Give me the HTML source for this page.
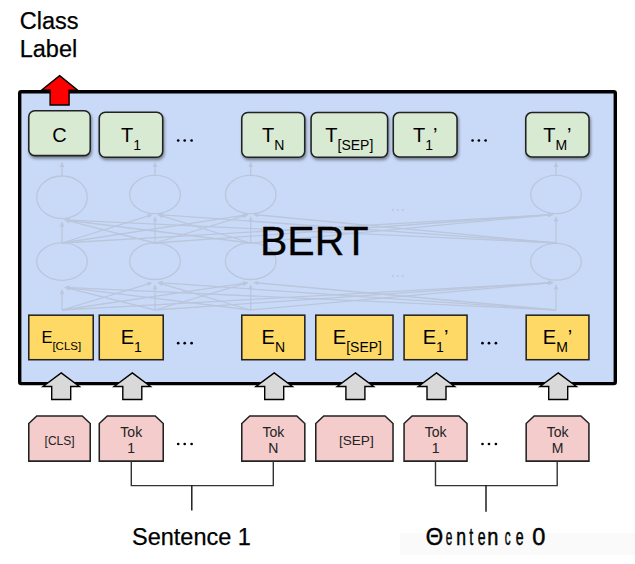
<!DOCTYPE html>
<html><head><meta charset="utf-8"><style>
html,body{margin:0;padding:0;background:#fff;}
body{width:635px;height:564px;overflow:hidden;position:relative;}
svg{position:absolute;left:0;top:0;}
text{font-family:"Liberation Sans", sans-serif;}
</style></head><body>
<svg width="635" height="564" viewBox="0 0 635 564">
<defs>
<filter id="sh" x="-20%" y="-20%" width="140%" height="150%">
<feDropShadow dx="1" dy="2.2" stdDeviation="1.8" flood-color="#000" flood-opacity="0.42"/>
</filter>
<filter id="bl" x="-5%" y="-5%" width="110%" height="110%"><feGaussianBlur stdDeviation="0.35"/></filter>
</defs>

<rect x="400" y="533" width="235" height="22" fill="#fafafa"/>
<rect x="19.7" y="91.7" width="595.6" height="291.9" rx="1.5" fill="#c9daf8" stroke="#000" stroke-width="3.4"/>
<g stroke="#bac6dc" stroke-width="1.3" fill="none" filter="url(#bl)">
<ellipse cx="62" cy="197.3" rx="25.3" ry="21.3"/>
<ellipse cx="62" cy="261.6" rx="25.3" ry="18.7"/>
<line x1="62" y1="176.0" x2="62.00" y2="167.00"/>
<path d="M62.00,161.50 L64.30,167.00 L59.70,167.00 Z" fill="#bac6dc" stroke="none"/>
<ellipse cx="155" cy="194.5" rx="25.3" ry="19.2"/>
<ellipse cx="155" cy="261.2" rx="25.3" ry="18.3"/>
<line x1="155" y1="175.3" x2="155.00" y2="167.00"/>
<path d="M155.00,161.50 L157.30,167.00 L152.70,167.00 Z" fill="#bac6dc" stroke="none"/>
<ellipse cx="250.7" cy="194.5" rx="25.3" ry="19.2"/>
<ellipse cx="250.7" cy="261.2" rx="25.3" ry="18.3"/>
<line x1="250.7" y1="175.3" x2="250.70" y2="167.00"/>
<path d="M250.70,161.50 L253.00,167.00 L248.40,167.00 Z" fill="#bac6dc" stroke="none"/>
<ellipse cx="556" cy="194.5" rx="25.3" ry="19.2"/>
<ellipse cx="556" cy="261.8" rx="25.3" ry="18.4"/>
<line x1="556" y1="175.3" x2="556.00" y2="167.00"/>
<path d="M556.00,161.50 L558.30,167.00 L553.70,167.00 Z" fill="#bac6dc" stroke="none"/>
<line x1="62" y1="243" x2="62.00" y2="226.80"/>
<path d="M62.00,221.30 L64.30,226.80 L59.70,226.80 Z" fill="#bac6dc" stroke="none"/>
<line x1="62" y1="310" x2="62.00" y2="294.30"/>
<path d="M62.00,288.80 L64.30,294.30 L59.70,294.30 Z" fill="#bac6dc" stroke="none"/>
<line x1="62" y1="243" x2="147.55" y2="216.15"/>
<path d="M152.80,214.50 L148.24,218.34 L146.86,213.95 Z" fill="#bac6dc" stroke="none"/>
<line x1="62" y1="310" x2="147.54" y2="284.09"/>
<path d="M152.80,282.50 L148.20,286.30 L146.87,281.89 Z" fill="#bac6dc" stroke="none"/>
<line x1="62" y1="243" x2="243.06" y2="215.33"/>
<path d="M248.50,214.50 L243.41,217.60 L242.72,213.06 Z" fill="#bac6dc" stroke="none"/>
<line x1="62" y1="310" x2="243.06" y2="283.30"/>
<path d="M248.50,282.50 L243.39,285.58 L242.72,281.03 Z" fill="#bac6dc" stroke="none"/>
<line x1="62" y1="243" x2="548.31" y2="214.82"/>
<path d="M553.80,214.50 L548.44,217.11 L548.18,212.52 Z" fill="#bac6dc" stroke="none"/>
<line x1="62" y1="310" x2="548.31" y2="282.81"/>
<path d="M553.80,282.50 L548.44,285.10 L548.18,280.51 Z" fill="#bac6dc" stroke="none"/>
<line x1="155" y1="243" x2="69.53" y2="221.16"/>
<path d="M64.20,219.80 L70.10,218.93 L68.96,223.39 Z" fill="#bac6dc" stroke="none"/>
<line x1="155" y1="310" x2="69.54" y2="288.63"/>
<path d="M64.20,287.30 L70.09,286.40 L68.98,290.87 Z" fill="#bac6dc" stroke="none"/>
<line x1="155" y1="243" x2="155.00" y2="221.50"/>
<path d="M155.00,216.00 L157.30,221.50 L152.70,221.50 Z" fill="#bac6dc" stroke="none"/>
<line x1="155" y1="310" x2="155.00" y2="289.50"/>
<path d="M155.00,284.00 L157.30,289.50 L152.70,289.50 Z" fill="#bac6dc" stroke="none"/>
<line x1="155" y1="243" x2="243.24" y2="216.10"/>
<path d="M248.50,214.50 L243.91,218.30 L242.57,213.90 Z" fill="#bac6dc" stroke="none"/>
<line x1="155" y1="310" x2="243.22" y2="284.05"/>
<path d="M248.50,282.50 L243.87,286.26 L242.57,281.85 Z" fill="#bac6dc" stroke="none"/>
<line x1="155" y1="243" x2="548.31" y2="214.89"/>
<path d="M553.80,214.50 L548.48,217.19 L548.15,212.60 Z" fill="#bac6dc" stroke="none"/>
<line x1="155" y1="310" x2="548.31" y2="282.88"/>
<path d="M553.80,282.50 L548.47,285.17 L548.15,280.58 Z" fill="#bac6dc" stroke="none"/>
<line x1="250.7" y1="243" x2="69.66" y2="220.48"/>
<path d="M64.20,219.80 L69.94,218.20 L69.37,222.76 Z" fill="#bac6dc" stroke="none"/>
<line x1="250.7" y1="310" x2="69.66" y2="287.96"/>
<path d="M64.20,287.30 L69.94,285.68 L69.38,290.25 Z" fill="#bac6dc" stroke="none"/>
<line x1="250.7" y1="243" x2="162.46" y2="216.10"/>
<path d="M157.20,214.50 L163.13,213.90 L161.79,218.30 Z" fill="#bac6dc" stroke="none"/>
<line x1="250.7" y1="310" x2="162.48" y2="284.05"/>
<path d="M157.20,282.50 L163.13,281.85 L161.83,286.26 Z" fill="#bac6dc" stroke="none"/>
<line x1="250.7" y1="243" x2="250.70" y2="221.50"/>
<path d="M250.70,216.00 L253.00,221.50 L248.40,221.50 Z" fill="#bac6dc" stroke="none"/>
<line x1="250.7" y1="310" x2="250.70" y2="289.50"/>
<path d="M250.70,284.00 L253.00,289.50 L248.40,289.50 Z" fill="#bac6dc" stroke="none"/>
<line x1="250.7" y1="243" x2="548.32" y2="215.01"/>
<path d="M553.80,214.50 L548.54,217.30 L548.11,212.72 Z" fill="#bac6dc" stroke="none"/>
<line x1="250.7" y1="310" x2="548.32" y2="283.00"/>
<path d="M553.80,282.50 L548.53,285.29 L548.11,280.71 Z" fill="#bac6dc" stroke="none"/>
<line x1="556" y1="243" x2="69.69" y2="220.06"/>
<path d="M64.20,219.80 L69.80,217.76 L69.59,222.36 Z" fill="#bac6dc" stroke="none"/>
<line x1="556" y1="310" x2="69.69" y2="287.55"/>
<path d="M64.20,287.30 L69.80,285.26 L69.59,289.85 Z" fill="#bac6dc" stroke="none"/>
<line x1="556" y1="243" x2="162.69" y2="214.89"/>
<path d="M157.20,214.50 L162.85,212.60 L162.52,217.19 Z" fill="#bac6dc" stroke="none"/>
<line x1="556" y1="310" x2="162.69" y2="282.88"/>
<path d="M157.20,282.50 L162.85,280.58 L162.53,285.17 Z" fill="#bac6dc" stroke="none"/>
<line x1="556" y1="243" x2="258.38" y2="215.01"/>
<path d="M252.90,214.50 L258.59,212.72 L258.16,217.30 Z" fill="#bac6dc" stroke="none"/>
<line x1="556" y1="310" x2="258.38" y2="283.00"/>
<path d="M252.90,282.50 L258.59,280.71 L258.17,285.29 Z" fill="#bac6dc" stroke="none"/>
<line x1="556" y1="243" x2="556.00" y2="221.50"/>
<path d="M556.00,216.00 L558.30,221.50 L553.70,221.50 Z" fill="#bac6dc" stroke="none"/>
<line x1="556" y1="310" x2="556.00" y2="289.50"/>
<path d="M556.00,284.00 L558.30,289.50 L553.70,289.50 Z" fill="#bac6dc" stroke="none"/>
</g>
<circle cx="392.7" cy="210" r="1.1" fill="#bac6dc"/>
<circle cx="397.7" cy="210" r="1.1" fill="#bac6dc"/>
<circle cx="402.7" cy="210" r="1.1" fill="#bac6dc"/>
<circle cx="392.7" cy="276" r="1.1" fill="#bac6dc"/>
<circle cx="397.7" cy="276" r="1.1" fill="#bac6dc"/>
<circle cx="402.7" cy="276" r="1.1" fill="#bac6dc"/>
<text x="260" y="255" font-size="41" fill="#000" stroke="#000" stroke-width="0.3">BERT</text>
<rect x="28.775" y="110.775" width="61.45" height="44.85" rx="6" fill="#d9ead3" stroke="#222" stroke-width="1.55" filter="url(#sh)"/>
<rect x="99.275" y="112.275" width="63.45" height="44.95" rx="6" fill="#d9ead3" stroke="#222" stroke-width="1.55" filter="url(#sh)"/>
<rect x="241.775" y="112.47500000000001" width="62.95" height="44.75" rx="6" fill="#d9ead3" stroke="#222" stroke-width="1.55" filter="url(#sh)"/>
<rect x="311.075" y="112.47500000000001" width="76.55" height="44.75" rx="6" fill="#d9ead3" stroke="#222" stroke-width="1.55" filter="url(#sh)"/>
<rect x="393.275" y="112.575" width="63.75" height="44.35" rx="6" fill="#d9ead3" stroke="#222" stroke-width="1.55" filter="url(#sh)"/>
<rect x="525.775" y="112.575" width="63.25" height="44.35" rx="6" fill="#d9ead3" stroke="#222" stroke-width="1.55" filter="url(#sh)"/>
<text x="59.5" y="142" font-size="20" text-anchor="middle" fill="#000">C</text>
<text x="131.0" y="142" font-size="20" text-anchor="middle" fill="#000">T<tspan font-size="14" dy="7.7">1</tspan></text>
<text x="273.25" y="142" font-size="20" text-anchor="middle" fill="#000">T<tspan font-size="14" dy="7.7">N</tspan></text>
<text x="349.35" y="142" font-size="20" text-anchor="middle" fill="#000">T<tspan font-size="14" dy="7.7">[SEP]</tspan></text>
<text x="425.15" y="142" font-size="20" text-anchor="middle" fill="#000">T<tspan font-size="14" dy="7.7">1</tspan><tspan dy="-7.7">’</tspan></text>
<text x="557.4" y="142" font-size="20" text-anchor="middle" fill="#000">T<tspan font-size="14" dy="7.7">M</tspan><tspan dy="-7.7">’</tspan></text>
<rect x="28.775" y="315.17499999999995" width="64.45" height="44.55" fill="#ffd966" stroke="#222" stroke-width="1.55"/>
<text x="61.3" y="343.3" font-size="16.5" text-anchor="middle" fill="#000">E<tspan font-size="11.5" dy="6.5">[CLS]</tspan></text>
<rect x="99.275" y="315.17499999999995" width="63.95" height="44.55" fill="#ffd966" stroke="#222" stroke-width="1.55"/>
<text x="131.25" y="344.4" font-size="20" text-anchor="middle" fill="#000">E<tspan font-size="14" dy="7.7">1</tspan></text>
<rect x="241.775" y="315.17499999999995" width="63.05" height="44.55" fill="#ffd966" stroke="#222" stroke-width="1.55"/>
<text x="273.3" y="344.4" font-size="20" text-anchor="middle" fill="#000">E<tspan font-size="14" dy="7.7">N</tspan></text>
<rect x="315.775" y="315.17499999999995" width="77.25" height="44.55" fill="#ffd966" stroke="#222" stroke-width="1.55"/>
<text x="357.4" y="344.4" font-size="20" text-anchor="middle" fill="#000">E<tspan font-size="14" dy="7.7">[SEP]</tspan></text>
<rect x="404.075" y="315.17499999999995" width="62.95" height="44.55" fill="#ffd966" stroke="#222" stroke-width="1.55"/>
<text x="435.55" y="344.4" font-size="20" text-anchor="middle" fill="#000">E<tspan font-size="14" dy="7.7">1</tspan><tspan dy="-7.7">’</tspan></text>
<rect x="526.175" y="315.17499999999995" width="62.75" height="44.55" fill="#ffd966" stroke="#222" stroke-width="1.55"/>
<text x="557.55" y="344.4" font-size="20" text-anchor="middle" fill="#000">E<tspan font-size="14" dy="7.7">M</tspan><tspan dy="-7.7">’</tspan></text>
<circle cx="178.2" cy="140.5" r="1.35" fill="#000"/>
<circle cx="184.7" cy="140.5" r="1.35" fill="#000"/>
<circle cx="191.6" cy="140.5" r="1.35" fill="#000"/>
<circle cx="472.6" cy="140.5" r="1.35" fill="#000"/>
<circle cx="478.9" cy="140.5" r="1.35" fill="#000"/>
<circle cx="485.6" cy="140.5" r="1.35" fill="#000"/>
<circle cx="178.2" cy="343.2" r="1.35" fill="#000"/>
<circle cx="184.7" cy="343.2" r="1.35" fill="#000"/>
<circle cx="191.6" cy="343.2" r="1.35" fill="#000"/>
<circle cx="482.5" cy="343.2" r="1.35" fill="#000"/>
<circle cx="489" cy="343.2" r="1.35" fill="#000"/>
<circle cx="495.9" cy="343.2" r="1.35" fill="#000"/>
<circle cx="178.2" cy="444" r="1.35" fill="#000"/>
<circle cx="184.7" cy="444" r="1.35" fill="#000"/>
<circle cx="191.6" cy="444" r="1.35" fill="#000"/>
<circle cx="482.5" cy="444" r="1.35" fill="#000"/>
<circle cx="489" cy="444" r="1.35" fill="#000"/>
<circle cx="495.9" cy="444" r="1.35" fill="#000"/>
<path d="M59.6,75.6 L77.8,90.3 L69.1,90.3 L69.1,105.0 L50.1,105.0 L50.1,90.3 L41.400000000000006,90.3 Z" fill="#ff0000" stroke="#000" stroke-width="1.4" stroke-linejoin="miter"/>
<path d="M61.2,372.9 L79.4,386.5 L70.7,386.5 L70.7,399.5 L51.7,399.5 L51.7,386.5 L43.0,386.5 Z" fill="#d9d9d9" stroke="#000" stroke-width="1.4" stroke-linejoin="miter"/>
<path d="M132.3,372.9 L150.5,386.5 L141.8,386.5 L141.8,399.5 L122.80000000000001,399.5 L122.80000000000001,386.5 L114.10000000000001,386.5 Z" fill="#d9d9d9" stroke="#000" stroke-width="1.4" stroke-linejoin="miter"/>
<path d="M274.2,372.9 L292.4,386.5 L283.7,386.5 L283.7,399.5 L264.7,399.5 L264.7,386.5 L256.0,386.5 Z" fill="#d9d9d9" stroke="#000" stroke-width="1.4" stroke-linejoin="miter"/>
<path d="M355.4,372.9 L373.59999999999997,386.5 L364.9,386.5 L364.9,399.5 L345.9,399.5 L345.9,386.5 L337.2,386.5 Z" fill="#d9d9d9" stroke="#000" stroke-width="1.4" stroke-linejoin="miter"/>
<path d="M436.5,372.9 L454.7,386.5 L446.0,386.5 L446.0,399.5 L427.0,399.5 L427.0,386.5 L418.3,386.5 Z" fill="#d9d9d9" stroke="#000" stroke-width="1.4" stroke-linejoin="miter"/>
<path d="M558.2,372.9 L576.4000000000001,386.5 L567.7,386.5 L567.7,399.5 L548.7,399.5 L548.7,386.5 L540.0,386.5 Z" fill="#d9d9d9" stroke="#000" stroke-width="1.4" stroke-linejoin="miter"/>
<path d="M28.775,461.12500000000006 L28.775,423.47499999999997 L36.775,415.97499999999997 L82.225,415.97499999999997 L90.225,423.47499999999997 L90.225,461.12500000000006 Z" fill="#f4cccc" stroke="#222" stroke-width="1.55"/>
<text x="59.6" y="444.6" font-size="12" text-anchor="middle" fill="#222">[CLS]</text>
<path d="M99.275,461.12500000000006 L99.275,423.47499999999997 L107.275,415.97499999999997 L155.225,415.97499999999997 L163.225,423.47499999999997 L163.225,461.12500000000006 Z" fill="#f4cccc" stroke="#222" stroke-width="1.55"/>
<text x="131.25" y="437" font-size="14" text-anchor="middle" fill="#222">Tok</text>
<text x="131.25" y="453" font-size="14" text-anchor="middle" fill="#222">1</text>
<path d="M241.775,461.12500000000006 L241.775,423.47499999999997 L249.775,415.97499999999997 L296.82500000000005,415.97499999999997 L304.82500000000005,423.47499999999997 L304.82500000000005,461.12500000000006 Z" fill="#f4cccc" stroke="#222" stroke-width="1.55"/>
<text x="273.3" y="437" font-size="14" text-anchor="middle" fill="#222">Tok</text>
<text x="273.3" y="453" font-size="14" text-anchor="middle" fill="#222">N</text>
<path d="M315.775,461.12500000000006 L315.775,423.47499999999997 L323.775,415.97499999999997 L385.02500000000003,415.97499999999997 L393.02500000000003,423.47499999999997 L393.02500000000003,461.12500000000006 Z" fill="#f4cccc" stroke="#222" stroke-width="1.55"/>
<text x="356.3" y="445.1" font-size="13.6" text-anchor="middle" fill="#222">[SEP]</text>
<path d="M404.075,461.12500000000006 L404.075,423.47499999999997 L412.075,415.97499999999997 L459.02500000000003,415.97499999999997 L467.02500000000003,423.47499999999997 L467.02500000000003,461.12500000000006 Z" fill="#f4cccc" stroke="#222" stroke-width="1.55"/>
<text x="435.55" y="437" font-size="14" text-anchor="middle" fill="#222">Tok</text>
<text x="435.55" y="453" font-size="14" text-anchor="middle" fill="#222">1</text>
<path d="M526.175,461.12500000000006 L526.175,423.47499999999997 L534.175,415.97499999999997 L580.9250000000001,415.97499999999997 L588.9250000000001,423.47499999999997 L588.9250000000001,461.12500000000006 Z" fill="#f4cccc" stroke="#222" stroke-width="1.55"/>
<text x="557.55" y="437" font-size="14" text-anchor="middle" fill="#222">Tok</text>
<text x="557.55" y="453" font-size="14" text-anchor="middle" fill="#222">M</text>
<path d="M131.3,461 L131.3,485.6 L273.3,485.6 L273.3,461" fill="none" stroke="#333" stroke-width="1.4"/>
<line x1="191.8" y1="485.6" x2="191.8" y2="510.4" stroke="#111" stroke-width="1.4"/>
<path d="M435.5,461 L435.5,485.6 L557.2,485.6 L557.2,461" fill="none" stroke="#333" stroke-width="1.4"/>
<line x1="486" y1="485.6" x2="486" y2="511.7" stroke="#111" stroke-width="1.4"/>
<text x="19.7" y="29" font-size="23.5" fill="#000" stroke="#000" stroke-width="0.25">Class</text>
<text x="19.7" y="56.7" font-size="23.5" fill="#000" stroke="#000" stroke-width="0.25">Label</text>
<text x="132" y="545.1" font-size="23.5" fill="#000" stroke="#000" stroke-width="0.25">Sentence 1</text>
<text transform="translate(434.4,545.1) scale(0.95,1)" x="0" y="0" font-size="23.5" text-anchor="middle" fill="#000" stroke="#000" stroke-width="0.5">Θ</text>
<text transform="translate(448.9,545.1) scale(0.5,1)" x="0" y="0" font-size="23.5" text-anchor="middle" fill="#000" stroke="#000" stroke-width="0.5">e</text>
<text transform="translate(461.1,545.1) scale(0.75,1)" x="0" y="0" font-size="23.5" text-anchor="middle" fill="#000" stroke="#000" stroke-width="0.5">n</text>
<text transform="translate(471.3,545.1) scale(0.6,1)" x="0" y="0" font-size="23.5" text-anchor="middle" fill="#000" stroke="#000" stroke-width="0.5">t</text>
<text transform="translate(481.6,545.1) scale(0.6,1)" x="0" y="0" font-size="23.5" text-anchor="middle" fill="#000" stroke="#000" stroke-width="0.5">e</text>
<text transform="translate(492.8,545.1) scale(0.85,1)" x="0" y="0" font-size="23.5" text-anchor="middle" fill="#000" stroke="#000" stroke-width="0.5">n</text>
<text transform="translate(507.6,545.1) scale(0.5,1)" x="0" y="0" font-size="23.5" text-anchor="middle" fill="#000" stroke="#000" stroke-width="0.5">c</text>
<text transform="translate(519.6,545.1) scale(0.6,1)" x="0" y="0" font-size="23.5" text-anchor="middle" fill="#000" stroke="#000" stroke-width="0.5">e</text>
<text transform="translate(538.8,545.1) scale(1.0,1)" x="0" y="0" font-size="23.5" text-anchor="middle" fill="#000" stroke="#000" stroke-width="0.5">0</text>
</svg></body></html>
